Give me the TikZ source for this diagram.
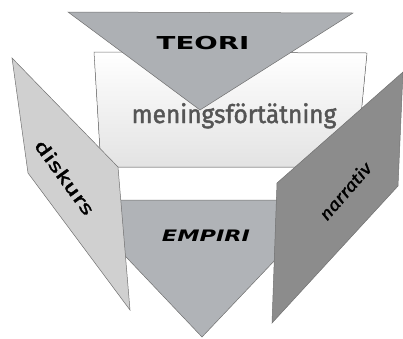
\documentclass[tikz,border=0pt]{standalone}
\usepackage{fontspec}
\setmainfont{Fira Sans}
\newfontfamily\headfont{DejaVu Sans}
\usepackage{graphicx}

\definecolor{teorigray}{HTML}{ADB0B4}
\definecolor{empirigray}{HTML}{B0B3B7}
\definecolor{diskursgray}{HTML}{D0D0D0}
\definecolor{narrativgray}{HTML}{8C8C8C}
\definecolor{edgegray}{HTML}{707070}
\definecolor{wordgray}{HTML}{555555}

\tikzstyle{wedge} = [fill=teorigray, draw=edgegray, line width=0.5pt]
\tikzstyle{sheet} = [draw=edgegray, line width=0.5pt]
\tikzstyle{caps} = [font=\headfont\bfseries, text=black, inner sep=0pt]
\tikzstyle{panelword} = [text=black, inner sep=0pt]

\begin{document}
\begin{tikzpicture}[x=1pt, y=-1pt]
\useasboundingbox (0,0) rectangle (403,338);

% EMPIRI wedge, behind the side panels
\filldraw [wedge, fill=empirigray] (72,200) -- (332,200) -- (202,337) -- cycle;
\node (empiri) [caps, font=\headfont\bfseries\itshape\fontsize{15.8}{16}\selectfont] at (206,236) {\scalebox{1.42}[1]{EMPIRI}};

% middle sheet
\filldraw [sheet, top color=white, middle color=white, bottom color=black!11] (94,52) -- (367,53) -- (356,167) -- (101,167) -- cycle;
\node (mening) [anchor=base, text=wordgray, inner sep=0pt, font=\fontsize{25.5}{26}\selectfont\addfontfeature{FakeBold=1.6}] at (234,123) {\scalebox{0.96}[1]{meningsförtätning}};

% TEORI wedge
\filldraw [wedge] (68,12) -- (353,13) -- (200,110) -- cycle;
\node (teori) [caps, font=\headfont\bfseries\fontsize{17.8}{18}\selectfont] at (203,43.5) {\scalebox{1.55}[1]{TEORI}};

% side panels
\filldraw [sheet, fill=diskursgray] (12,58) -- (118,167) -- (130,310) -- (28,173) -- cycle;
\node (diskurs) [panelword, rotate=-54, font=\fontsize{18}{18}\selectfont\addfontfeature{FakeBold=1.5}] at (65,177) {\scalebox{1.5}[1]{diskurs}};

\filldraw [sheet, fill=narrativgray] (277,183) -- (403,72) -- (398,186) -- (272,323) -- cycle;
\node (narrativ) [panelword, rotate=49, font=\fontsize{17}{17}\selectfont\itshape\addfontfeature{FakeBold=1.5}] at (345,191) {\scalebox{1.15}[1]{narrativ}};

\end{tikzpicture}
\end{document}
